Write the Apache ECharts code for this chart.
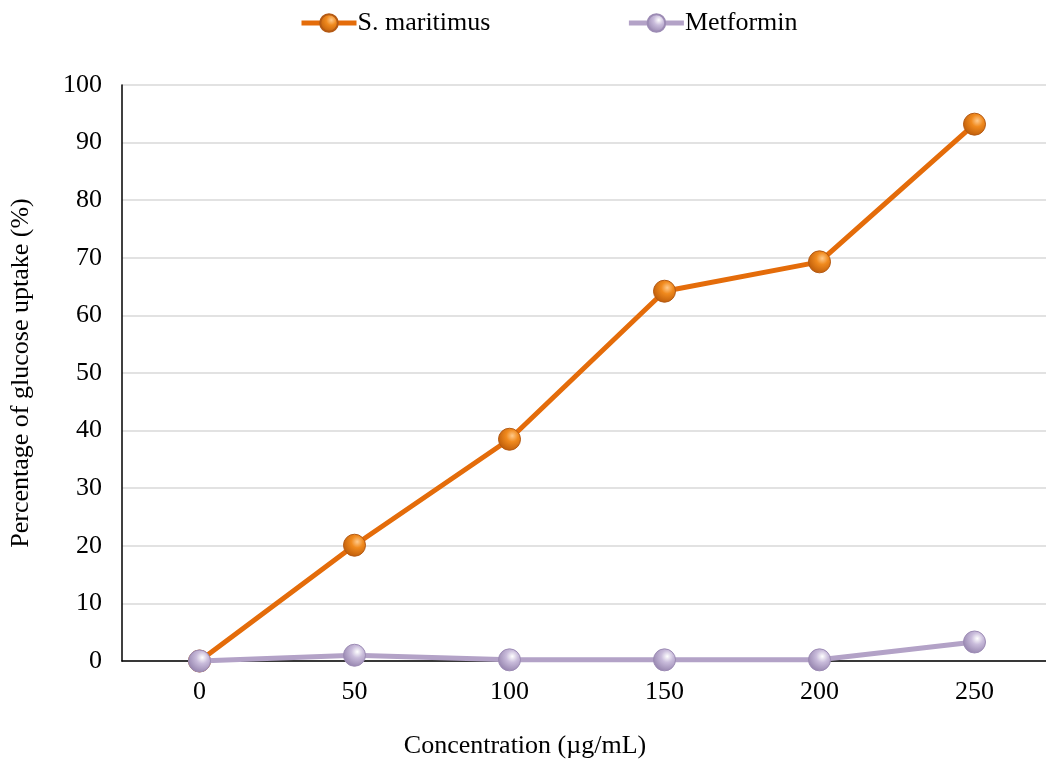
<!DOCTYPE html>
<html><head><meta charset="utf-8">
<script src="https://cdn.jsdelivr.net/npm/echarts@6/dist/echarts.min.js"></script>
<style>html,body{margin:0;padding:0;background:#fff}#c{width:1046px;height:765px}</style>
</head><body><div id="c"></div>
<script>
const categories = ['0','50','100','150','200','250'];
const sMaritimus = [0, 20.1, 38.5, 64.2, 69.3, 93.2];
const metformin = [0, 1.0, 0.2, 0.2, 0.2, 3.3];
const yTicks = [0,10,20,30,40,50,60,70,80,90,100];

function sphere(light, mid, dark){
  return new echarts.graphic.RadialGradient(0.62, 0.35, 0.75, [
    {offset:0, color:light},{offset:0.35, color:mid},{offset:1, color:dark}
  ]);
}
const font = 'Liberation Serif, Times New Roman, serif';
const chart = echarts.init(document.getElementById('c'));
chart.setOption({
  animation:false,
  textStyle:{fontFamily:font},
  legend:{
    top:5, left:294, itemGap:136, itemWidth:55, itemHeight:22,
    lineStyle:{width:5},
    textStyle:{fontFamily:font, fontSize:26, color:'#000', padding:[0,0,0,-4]},
    data:['S. maritimus','Metformin']
  },
  grid:{left:122, right:-6, top:85, bottom:104, outerBoundsMode:'none', containLabel:false},
  xAxis:{
    type:'category', data:categories, boundaryGap:true,
    name:'Concentration (µg/mL)', nameLocation:'middle', nameGap:72,
    nameTextStyle:{fontFamily:font, fontSize:26, color:'#000', padding:[0,0,0,-124]},
    axisLine:{lineStyle:{color:'#000', width:1.5}},
    axisTick:{show:false},
    axisLabel:{fontFamily:font, fontSize:26, color:'#000', margin:18}
  },
  yAxis:{
    type:'value', min:0, max:100, interval:10,
    name:'Percentage of glucose uptake (%)', nameLocation:'middle', nameGap:88,
    nameTextStyle:{fontFamily:font, fontSize:26, color:'#000'},
    axisLine:{show:true, lineStyle:{color:'#000', width:1.5}},
    axisTick:{show:false},
    axisLabel:{fontFamily:font, fontSize:26, color:'#000', margin:20,
      formatter:v=>yTicks.includes(v)?String(v):''},
    splitLine:{lineStyle:{color:'#d9d9d9', width:1.5}}
  },
  series:[
    {name:'S. maritimus', type:'line', data:sMaritimus, symbol:'circle', symbolSize:22,
     lineStyle:{color:'#E46C0A', width:5},
     itemStyle:{color:sphere('#FFC98A','#F08A1E','#B55406'), borderColor:'#B45A14', borderWidth:1},
     z:2},
    {name:'Metformin', type:'line', data:metformin, symbol:'circle', symbolSize:22,
     lineStyle:{color:'#B3A2C7', width:5},
     itemStyle:{color:sphere('#FFFFFF','#C9BCDB','#8C7AA6'), borderColor:'#9C8BB4', borderWidth:1},
     z:3}
  ]
});
</script></body></html>
